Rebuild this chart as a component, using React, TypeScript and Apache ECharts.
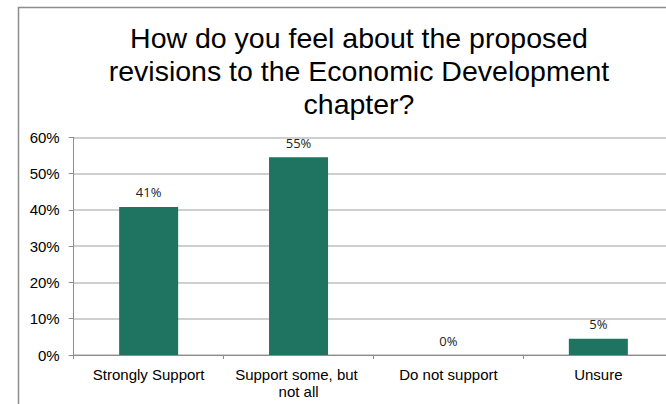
import React, { useEffect, useRef } from "react";
import * as echarts from "echarts";

const titleLines = [
  "How do you feel about the proposed",
  "revisions to the Economic Development",
  "chapter?",
];
const categories = ["Strongly Support", "Support some, but not all", "Do not support", "Unsure"];
const values = [40.8, 54.5, 0, 4.5];
const yTicks = { min: 0, max: 60, interval: 10 };

export default function App() {
  const ref = useRef<HTMLDivElement>(null);
  useEffect(() => {
    if (!ref.current) return;
    const chart = echarts.init(ref.current, null, { renderer: "svg" });
    chart.setOption({
      animation: false,
      backgroundColor: "#ffffff",
      graphic: [
        {
          type: "rect",
          shape: { x: 18.5, y: 7.5, width: 900, height: 600 },
          style: { fill: "none", stroke: "#8c8c8c", lineWidth: 1.5 },
          silent: true,
          z: -1,
        },
      ],
      title: {
        text: titleLines.join("\n"),
        left: 354,
        textAlign: "center",
        top: 16,
        textStyle: {
          fontFamily: "Liberation Sans, Arial, sans-serif",
          fontSize: 28.5,
          fontWeight: "normal",
          color: "#000000",
          lineHeight: 33,
        },
      },
      grid: { left: 73.7, top: 137.3, bottom: 49, right: 26.7, containLabel: false },
      xAxis: {
        type: "category",
        data: categories,
        axisLine: { lineStyle: { color: "#8c8c8c", width: 1 } },
        axisTick: { show: true, length: 4, lineStyle: { color: "#8c8c8c" } },
        axisLabel: {
          interval: 0,
          margin: 11,
          fontFamily: "Liberation Sans, Arial, sans-serif",
          fontSize: 15,
          color: "#000000",
          width: 140,
          overflow: "break",
          lineHeight: 17,
        },
      },
      yAxis: {
        type: "value",
        min: yTicks.min,
        max: yTicks.max,
        interval: yTicks.interval,
        axisLine: { show: true, lineStyle: { color: "#8c8c8c", width: 1 } },
        axisTick: { show: true, length: 5, lineStyle: { color: "#8c8c8c" } },
        splitLine: { lineStyle: { color: "#bfbfbf", width: 1.5 } },
        axisLabel: {
          margin: 14,
          formatter: (v: number) => `${v}%`,
          fontFamily: "Liberation Sans, Arial, sans-serif",
          fontSize: 15,
          color: "#000000",
        },
      },
      series: [
        {
          type: "bar",
          data: values,
          barWidth: 59,
          itemStyle: { color: "#1e7361" },
          label: {
            show: true,
            position: "top",
            distance: 8,
            formatter: (p: any) => `${Math.round(p.value)}%`,
            fontFamily: "Open Sans, sans-serif",
            fontSize: 13,
            color: "#222222",
          },
        },
      ],
    });
    return () => chart.dispose();
  }, []);
  return (
    <div style={{ position: "fixed", left: 0, top: 0, width: 666, height: 404, overflow: "hidden", background: "#fff" }}>
      <div ref={ref} style={{ width: 700, height: 404 }} />
    </div>
  );
}
